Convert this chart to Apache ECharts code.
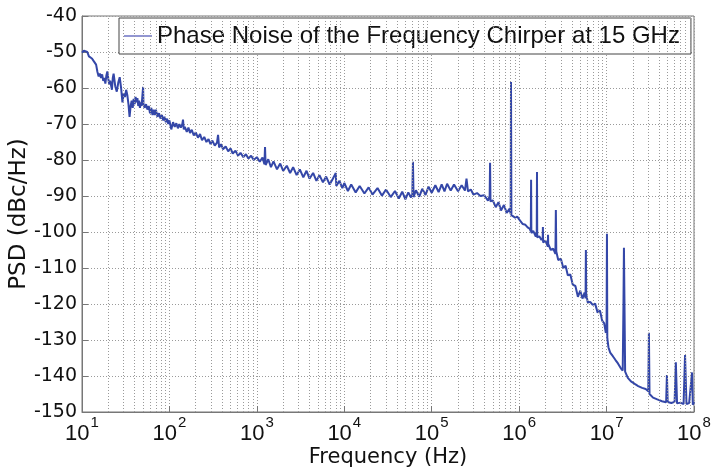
<!DOCTYPE html>
<html lang="en">
<head>
    <meta charset="UTF-8">
    <title>Phase Noise</title>
    <script src="https://cdn.jsdelivr.net/npm/echarts@6/dist/echarts.min.js"></script>
    <style>
        body { margin: 0; background: #fff; }
    </style>
</head>
<body>
    <div id="main" style="width: 712px;height:472px;"></div>
    <script type="text/javascript">
        // frequency (Hz) and PSD (dBc/Hz)
        var freq = [
            10, 10.5, 11, 11.5, 12, 12.5, 13, 13.5, 14, 14.5, 15, 15.5, 16, 16.5, 17, 17.5, 18, 18.5, 19, 19.5,
            20, 20.5, 21, 22, 22.5, 23, 24, 25, 26, 27, 28, 29, 30, 31, 32, 33, 34, 35, 36, 37,
            38, 39, 40, 41, 42, 43, 44, 45, 46, 47, 48, 49.5, 50, 50.5, 52, 54, 56, 58, 60, 62,
            64, 66, 68, 70, 73, 76, 79, 82, 85, 88, 91, 94, 97, 100,
            105, 110, 115, 120, 125, 130, 135, 140, 143, 146, 150, 158, 165, 172, 180, 190, 200, 212, 224, 236,
            250, 265, 280, 295, 310, 330, 350, 360, 370, 390, 410, 440, 470, 500, 530, 570, 610, 650, 700, 750,
            800, 860, 920, 1000,
            1080, 1160, 1220, 1240, 1260, 1350, 1450, 1550, 1700, 1850, 1940, 2000, 2200, 2400, 2600, 2850,
            3100, 3400, 3700, 4000, 4400, 4800, 5200, 5700, 6200, 6800, 7400, 8000, 8100, 8800, 9500, 10000,
            11000, 12000, 13500, 15000, 17000, 19000, 21000, 24000, 27000, 30000, 34000, 38000, 42000, 46000,
            50000, 54000, 58000, 60000, 61000, 62000, 66000, 72000, 78000, 85000, 92000, 100000,
            110000, 120000, 130000, 140000, 150000, 165000, 180000, 200000, 220000, 240000, 250000, 260000,
            280000, 300000, 330000, 360000, 400000, 440000, 460000, 465000, 470000, 500000, 540000, 580000,
            620000, 670000, 720000, 780000, 800000, 807000, 815000, 850000, 900000, 950000, 1000000,
            1050000, 1100000, 1180000, 1250000, 1320000, 1360000, 1370000, 1380000, 1450000, 1550000, 1590000,
            1600000, 1610000, 1700000, 1800000, 1860000, 1870000, 1880000, 2000000, 2130000, 2140000, 2150000,
            2300000, 2450000, 2600000, 2630000, 2660000, 2800000, 3000000, 3200000, 3400000, 3600000, 3850000,
            4100000, 4400000, 4700000, 5000000, 5300000, 5600000, 5750000, 5800000, 5850000, 6100000, 6500000,
            6900000, 7400000, 7900000, 8400000, 8900000, 9400000, 9800000, 10000000, 10100000, 10200000,
            10500000, 11000000, 11800000, 12600000, 13500000, 14500000, 15300000, 15600000, 15800000, 16000000,
            16300000, 17500000, 19000000, 21000000, 23000000, 25500000, 28000000, 30000000, 30500000, 31000000,
            34000000, 38000000, 43000000, 48000000, 49000000, 50000000, 55000000, 60000000, 62000000, 64000000,
            70000000, 76000000, 79000000, 82000000, 88000000, 95000000, 97000000, 100000000
        ];
        var psd = [
            -50.2, -49.6, -49.4, -50.0, -51.2, -51.0, -51.8, -52.4, -52.0, -53.5, -55.5, -56.8, -56.0, -57.2, -56.2, -58.0, -57.2, -58.8, -56.5, -55.4,
            -57.5, -59.0, -58.0, -60.5, -57.2, -56.0, -59.5, -61.0, -58.5, -57.0, -60.0, -64.0, -61.5, -62.5, -60.5, -62.0, -64.5, -68.0, -65.0, -63.5,
            -65.5, -63.0, -64.5, -62.5, -64.0, -62.8, -65.0, -63.5, -65.5, -64.0, -65.0, -64.5, -59.7, -64.5, -65.5, -64.5, -66.0, -65.0, -67.0, -65.5,
            -67.5, -66.0, -67.5, -66.0, -68.0, -67.0, -68.5, -67.5, -69.0, -68.0, -69.5, -68.5, -70.0, -69.0,
            -71.5, -69.5, -70.8, -69.8, -71.2, -70.0, -71.0, -70.2, -68.8, -71.5, -70.8, -72.2, -71.0, -72.5, -71.6, -73.2, -72.3, -73.8, -72.8, -74.5,
            -73.6, -75.0, -74.2, -75.6, -74.6, -76.0, -75.2, -73.0, -76.5, -75.6, -77.0, -76.2, -77.6, -76.8, -78.2, -77.4, -78.8, -78.0, -79.2, -78.4,
            -79.6, -78.8, -80.0, -79.2,
            -80.5, -79.3, -81.2, -76.4, -81.4, -79.8, -82.0, -80.4, -82.6, -81.0, -80.5, -83.0, -81.6, -83.6, -82.0, -84.2,
            -82.6, -84.8, -83.0, -85.2, -83.6, -85.8, -84.2, -86.2, -84.6, -86.8, -85.2, -83.6, -87.2, -85.8, -87.8, -86.4,
            -88.6, -86.8, -89.0, -87.2, -89.3, -87.6, -89.6, -87.8, -89.9, -88.2, -90.3, -88.6, -90.7, -88.8,
            -90.9, -89.0, -90.4, -89.6, -80.5, -90.3, -88.4, -90.2, -88.0, -89.7, -87.4, -89.1,
            -87.0, -88.9, -86.8, -88.7, -86.6, -88.5, -86.8, -88.7, -87.0, -88.5, -85.2, -88.7,
            -88.2, -89.6, -89.2, -90.0, -89.8, -91.3, -90.0, -80.8, -91.5, -91.2, -93.1, -91.7,
            -94.0, -92.5, -94.7, -93.5, -95.0, -58.3, -95.3, -95.0, -96.0, -95.7, -96.5,
            -97.0, -97.8, -98.0, -98.7, -99.1, -99.8, -85.5, -100.3, -99.7, -101.3, -100.0,
            -83.3, -101.5, -101.2, -102.2, -101.6, -98.6, -102.9, -102.4, -104.1, -100.8, -103.3,
            -105.0, -104.6, -106.1, -93.9, -105.4, -107.8, -107.4, -110.0, -109.4, -112.0, -111.8,
            -114.6, -115.0, -118.0, -116.3, -118.5, -116.8, -118.4, -105.0, -117.2, -119.6, -119.4,
            -120.2, -119.9, -122.4, -121.8, -124.6, -125.4, -128.0, -127.4, -100.5, -129.5,
            -132.0, -133.5, -134.5, -135.5, -136.5, -137.8, -138.5, -120.0, -104.4, -118.0,
            -138.8, -140.5, -141.5, -142.2, -142.8, -143.3, -143.6, -144.2, -128.0, -145.0,
            -146.0, -146.5, -147.0, -147.3, -139.7, -147.2, -147.5, -147.2, -136.2, -147.6,
            -147.4, -147.8, -134.2, -147.8, -147.5, -139.0, -148.0, -147.2
        ];
        // decades and minor multipliers for the dotted vertical grid
        var decades = [10, 100, 1000, 10000, 100000, 1000000, 10000000];
        var minorMult = [2, 3, 4, 5, 6, 7, 8, 9];

        var myChart = echarts.init(document.getElementById('main'));

        var seriesData = freq.map(function (f, i) { return [f, psd[i]]; });

        var minorLines = [];
        decades.forEach(function (d) {
            minorMult.forEach(function (m) { minorLines.push({ xAxis: d * m }); });
        });

        var dotted = { color: '#9a9a9a', width: 1, type: [1, 2] };
        var axisFont = 'DejaVu Sans';

        var option = {
            animation: false,
            backgroundColor: '#fff',
            grid: {
                left: 82, right: 18, top: 16, bottom: 60,
                containLabel: false,
                outerBoundsMode: 'none',
                show: true,
                borderColor: '#777',
                borderWidth: 1
            },
            legend: {
                left: 119,
                top: 18,
                padding: [6, 11, 6, 5],
                icon: 'rect',
                itemWidth: 28,
                itemHeight: 1.5,
                itemGap: 0,
                backgroundColor: '#fff',
                borderColor: '#444',
                borderWidth: 1,
                borderRadius: 0,
                itemStyle: { color: '#6e73c4' },
                textStyle: { fontFamily: 'Liberation Sans', fontSize: 24, color: '#111', lineHeight: 24 },
                data: ['Phase Noise of the Frequency Chirper at 15 GHz']
            },
            xAxis: {
                type: 'log',
                logBase: 10,
                min: 10,
                max: 100000000,
                splitNumber: 7,
                name: 'Frequency (Hz)',
                nameLocation: 'middle',
                nameGap: 35,
                nameMoveOverlap: false,
                nameTextStyle: { fontFamily: axisFont, fontSize: 21, color: '#111' },
                axisLine: { show: true, lineStyle: { color: '#777' } },
                axisTick: { show: true, inside: true, length: 6, lineStyle: { color: '#777' } },
                splitLine: { show: true, lineStyle: dotted },
                axisLabel: {
                    margin: 3,
                    formatter: function (v) {
                        var n = Math.round(Math.log(v) / Math.LN10);
                        return '{b|10}{s|' + n + '}';
                    },
                    rich: {
                        b: { fontFamily: 'Liberation Sans', fontSize: 22, color: '#111', lineHeight: 30, verticalAlign: 'bottom' },
                        s: { fontFamily: 'Liberation Sans', fontSize: 15, color: '#111', verticalAlign: 'top', padding: [0, 0, 0, 1] }
                    }
                }
            },
            yAxis: {
                type: 'value',
                min: -150,
                max: -40,
                interval: 10,
                name: 'PSD (dBc/Hz)',
                nameLocation: 'middle',
                nameGap: 51,
                nameMoveOverlap: false,
                nameTextStyle: { fontFamily: axisFont, fontSize: 23, color: '#111' },
                axisLine: { show: true, lineStyle: { color: '#777' } },
                axisTick: { show: true, inside: true, length: 6, lineStyle: { color: '#777' } },
                splitLine: { show: true, lineStyle: dotted },
                axisLabel: { fontFamily: axisFont, fontSize: 19, color: '#111', margin: 5 }
            },
            series: [
                {
                    name: 'grid',
                    type: 'line',
                    data: [],
                    z: 1,
                    silent: true,
                    markLine: {
                        silent: true,
                        symbol: 'none',
                        label: { show: false },
                        lineStyle: dotted,
                        animation: false,
                        data: minorLines
                    }
                },
                {
                    name: 'Phase Noise of the Frequency Chirper at 15 GHz',
                    type: 'line',
                    data: seriesData,
                    z: 3,
                    showSymbol: false,
                    symbol: 'none',
                    lineStyle: { color: '#3447a8', width: 2 },
                    itemStyle: { color: '#3447a8' }
                }
            ]
        };

        myChart.setOption(option);
    </script>
</body>
</html>
